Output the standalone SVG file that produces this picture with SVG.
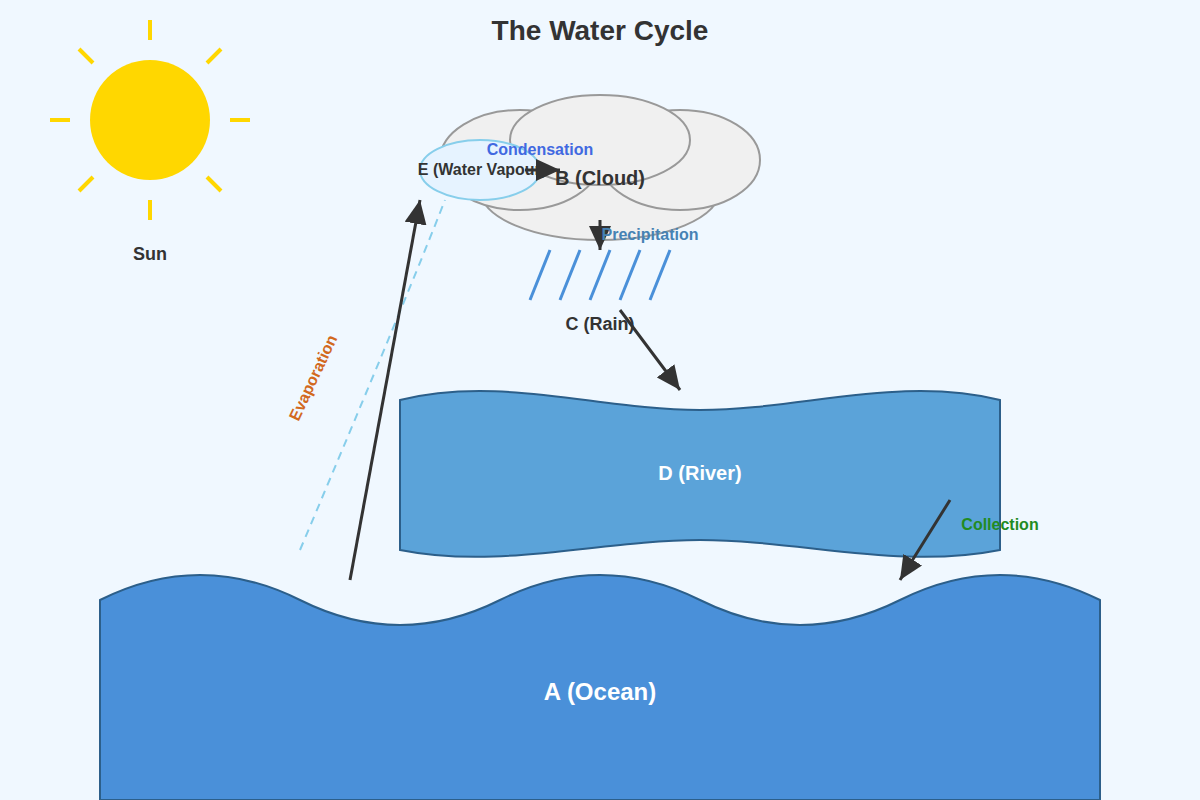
<svg xmlns="http://www.w3.org/2000/svg" width="1200" height="800" viewBox="0 0 1200 800">
<style>
text{font-family:"Liberation Sans",Arial,sans-serif;font-weight:bold;text-anchor:middle}
.ray{stroke:#ffd700;stroke-width:4}
.cl{fill:#f0f0f0;stroke:#999;stroke-width:2}
.rain{stroke:#4a90d9;stroke-width:3}
.ar{stroke:#333;stroke-width:3;fill:none;marker-end:url(#ah2)}
</style>
<defs>
<marker id="ah2" markerWidth="24" markerHeight="22" refX="24" refY="11" orient="auto" markerUnits="userSpaceOnUse"><path d="M0,0 L24,11 L0,22Z" fill="#333"/></marker></defs>
<rect width="1200" height="800" fill="#f0f8ff"/>
<text x="600" y="40" font-size="28" fill="#333">The Water Cycle</text>
<g id="sun">
<circle cx="150" cy="120" r="60" fill="#ffd700"/>
<line class="ray" x1="150" y1="20" x2="150" y2="40"/><line class="ray" x1="150" y1="200" x2="150" y2="220"/>
<line class="ray" x1="50" y1="120" x2="70" y2="120"/><line class="ray" x1="230" y1="120" x2="250" y2="120"/>
<line class="ray" x1="79" y1="49" x2="93" y2="63"/><line class="ray" x1="207" y1="177" x2="221" y2="191"/>
<line class="ray" x1="221" y1="49" x2="207" y2="63"/><line class="ray" x1="93" y1="177" x2="79" y2="191"/>
<text x="150" y="260" font-size="18" fill="#333">Sun</text>
</g>
<g id="A">
<path d="M100,600 Q200,550 300,600 T500,600 T700,600 T900,600 T1100,600 L1100,800 L100,800Z" fill="#4a90d9" stroke="#2c5f8a" stroke-width="2"/>
<text x="600" y="700" font-size="24" fill="#fff">A (Ocean)</text>
</g>
<g id="D">
<path d="M400,400 C500,375 600,410 700,410 C800,410 900,375 1000,400 L1000,550 C900,570 800,540 700,540 C600,540 500,570 400,550Z" fill="#5ba3d9" stroke="#2c5f8a" stroke-width="2"/>
<text x="700" y="480" font-size="20" fill="#fff">D (River)</text>
</g>
<g id="B">
<ellipse class="cl" cx="600" cy="190" rx="120" ry="50"/>
<ellipse class="cl" cx="520" cy="160" rx="80" ry="50"/>
<ellipse class="cl" cx="680" cy="160" rx="80" ry="50"/>
<ellipse class="cl" cx="600" cy="140" rx="90" ry="45" fill="#f5f5f5"/>
<text x="600" y="185" font-size="20" fill="#333">B (Cloud)</text>
</g>
<g id="E">
<ellipse cx="480" cy="170" rx="60" ry="30" fill="#e6f3ff" stroke="#87ceeb" stroke-width="2"/>
<text x="482" y="175" font-size="16" fill="#333">E (Water Vapour)</text>
</g>
<g id="C">
<line class="rain" x1="550" y1="250" x2="530" y2="300"/><line class="rain" x1="580" y1="250" x2="560" y2="300"/>
<line class="rain" x1="610" y1="250" x2="590" y2="300"/><line class="rain" x1="640" y1="250" x2="620" y2="300"/>
<line class="rain" x1="670" y1="250" x2="650" y2="300"/>
<text x="600" y="330" font-size="18" fill="#333">C (Rain)</text>
</g>
<g id="connectors">
<path d="M300,550 Q410,290 445,200" stroke="#87ceeb" stroke-width="2" stroke-dasharray="8,6" fill="none"/>
<line class="ar" x1="350" y1="580" x2="420" y2="200"/>
<line class="ar" x1="525" y1="170" x2="560" y2="170"/>
<line class="ar" x1="600" y1="220" x2="600" y2="250"/>
<line class="ar" x1="620" y1="310" x2="680" y2="390"/>
<line class="ar" x1="950" y1="500" x2="900" y2="580"/>
<text x="318" y="380" font-size="16" fill="#d2691e" transform="rotate(-65 318 380)">Evaporation</text>
<text x="540" y="155" font-size="16" fill="#4169e1">Condensation</text>
<text x="650" y="240" font-size="16" fill="#4682b4">Precipitation</text>
<text x="1000" y="530" font-size="16" fill="#228b22">Collection</text>
</g>
</svg>
